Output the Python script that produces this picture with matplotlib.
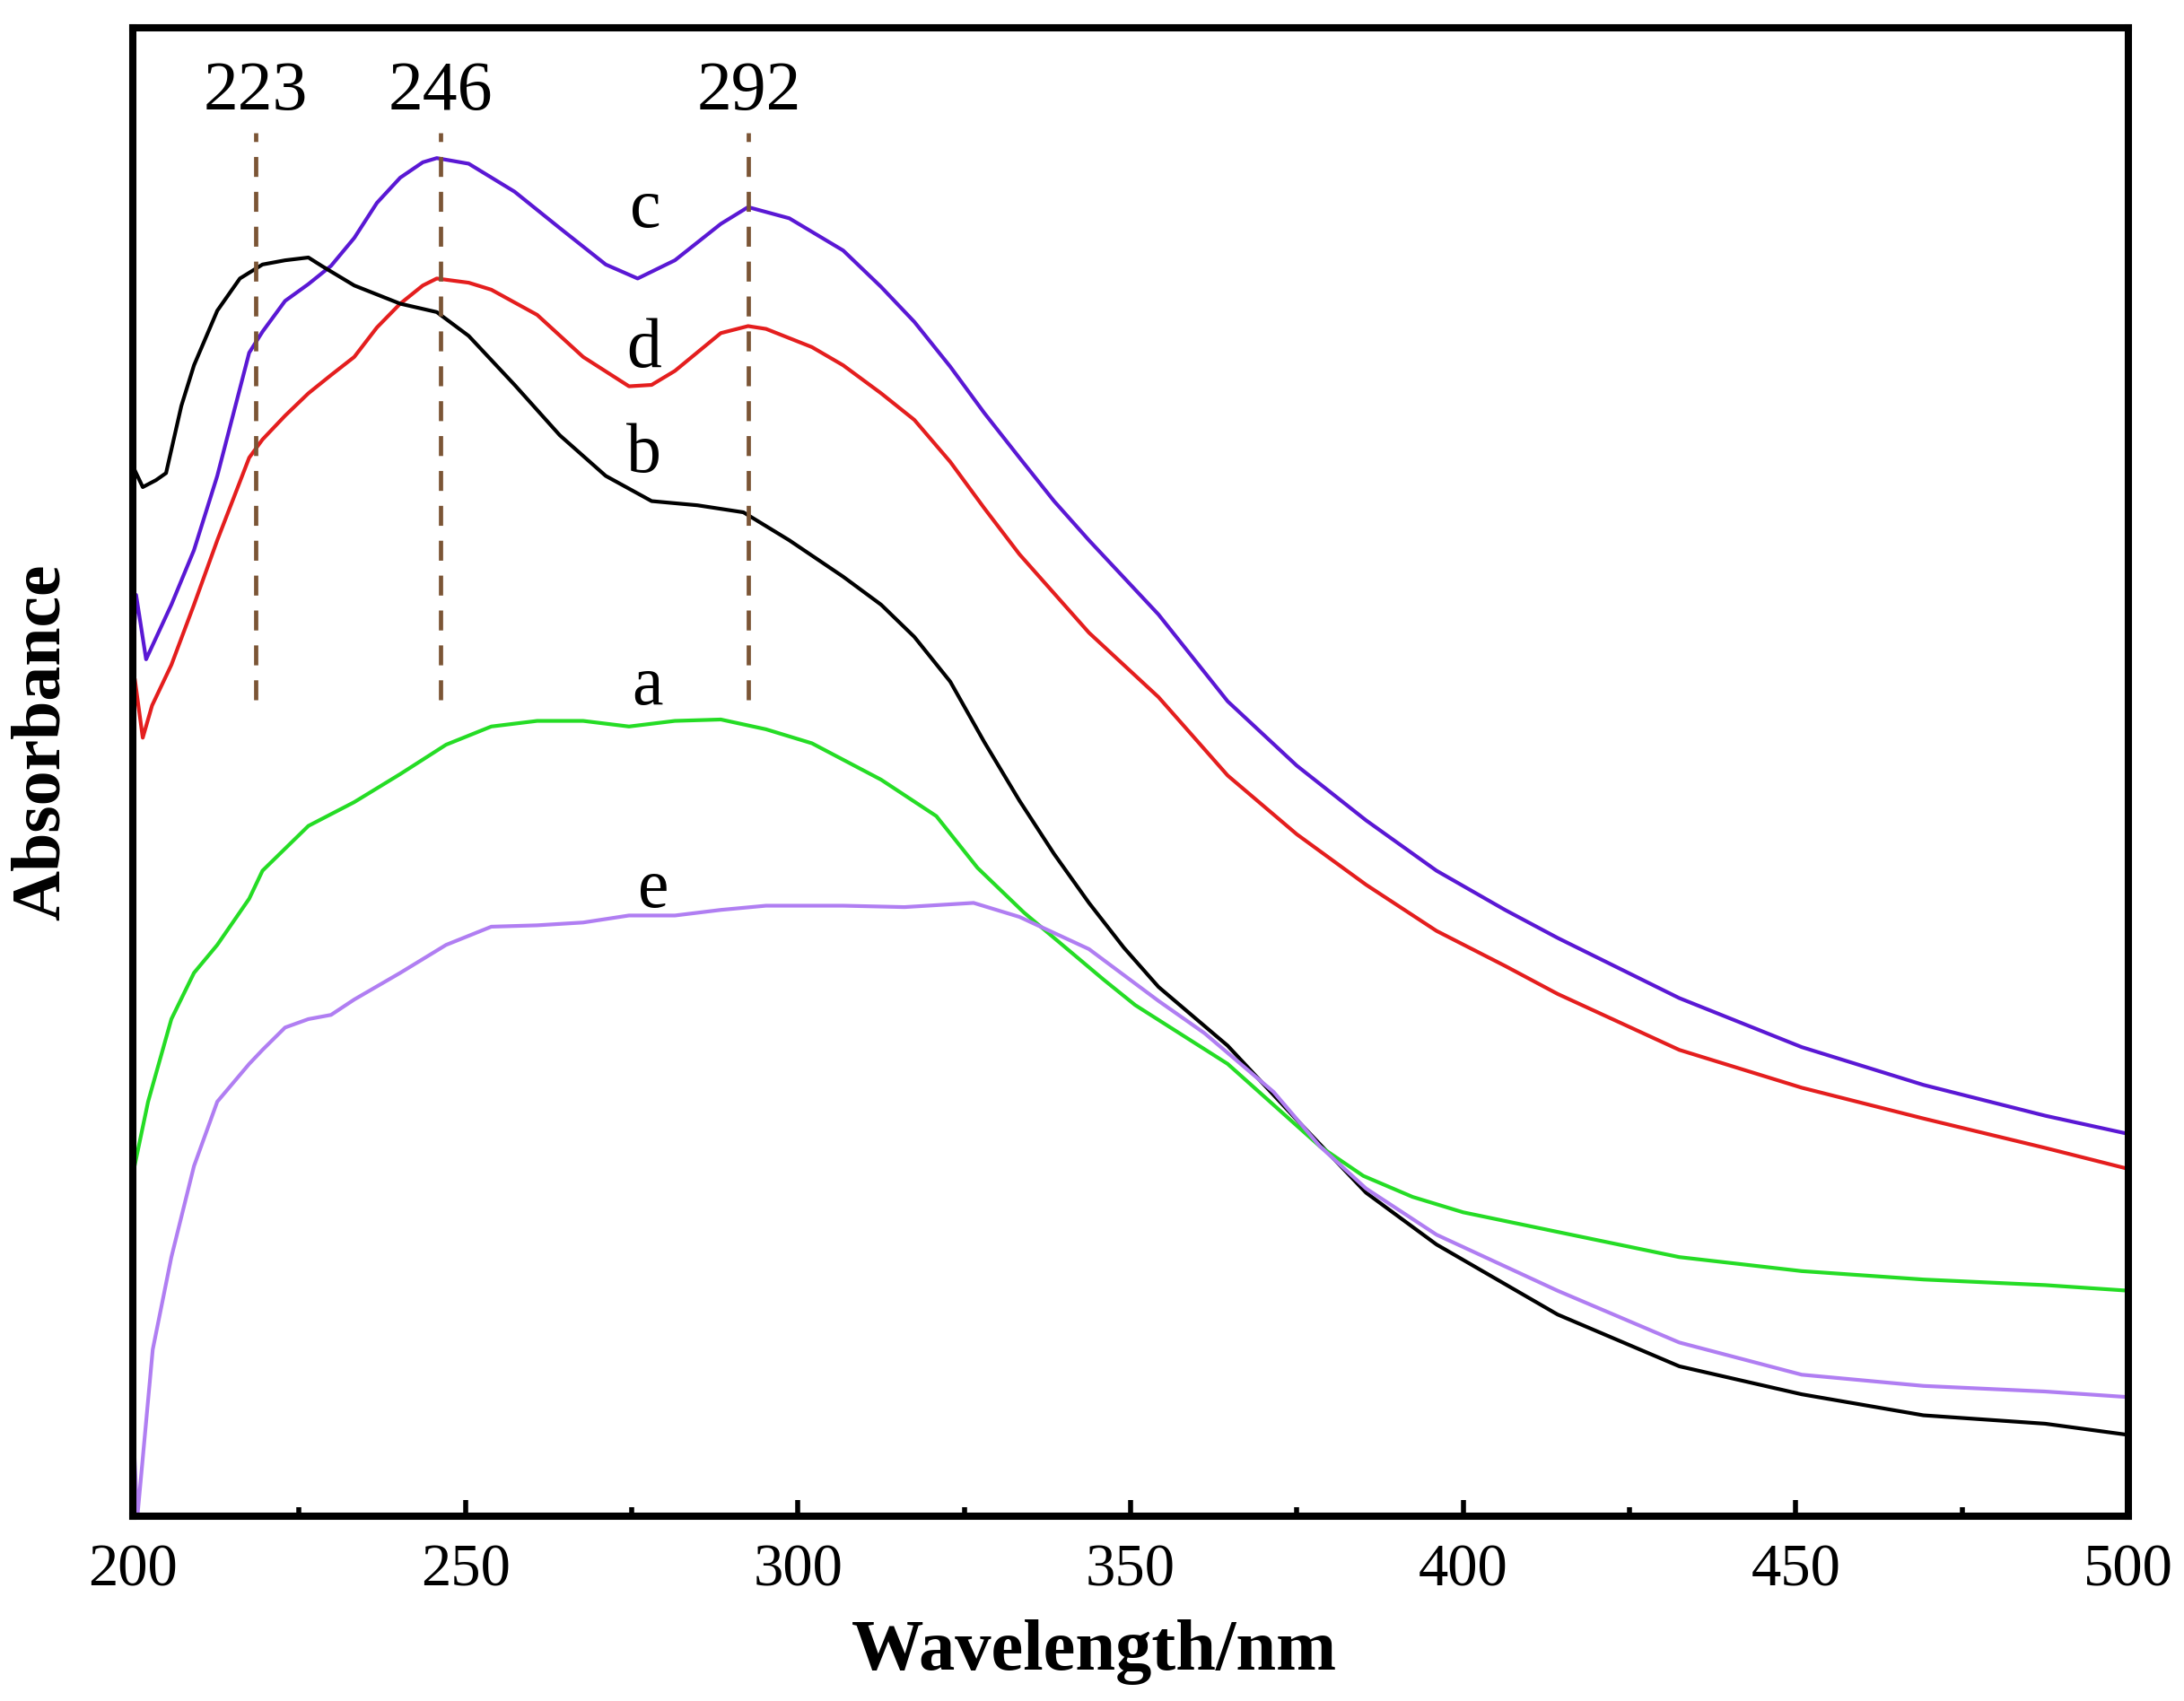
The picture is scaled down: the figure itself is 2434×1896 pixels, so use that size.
import matplotlib
matplotlib.use("Agg")
import matplotlib.pyplot as plt
from matplotlib.ticker import MultipleLocator

plt.rcParams['font.family'] = ['Liberation Serif', 'DejaVu Serif']
plt.rcParams['lines.scale_dashes'] = False

wl_a = [200.0, 202.3, 205.8, 209.2, 212.7, 217.5, 219.5, 226.4, 233.3, 240.2, 247.1, 253.9,
        260.8, 267.7, 274.6, 281.5, 288.4, 295.2, 302.1, 312.5, 320.8, 327.0, 334.0, 340.0,
        346.0, 350.7, 364.6, 378.5, 385.0, 392.4, 400.0, 414.2, 432.5, 450.9, 469.2, 487.5,
        500.0]
abs_a = [0.244, 0.296, 0.355, 0.388, 0.408, 0.441, 0.461, 0.493, 0.510, 0.530, 0.551, 0.564,
         0.568, 0.568, 0.564, 0.568, 0.569, 0.562, 0.552, 0.526, 0.500, 0.463, 0.431, 0.407,
         0.383, 0.365, 0.323, 0.264, 0.243, 0.228, 0.217, 0.203, 0.185, 0.175, 0.169, 0.165,
         0.161]

wl_b = [200.0, 201.5, 203.5, 205.0, 207.3, 209.2, 212.7, 216.1, 219.5, 222.9, 226.4, 228.4,
        230.5, 233.3, 240.2, 245.7, 250.5, 257.4, 264.2, 271.1, 278.0, 284.9, 291.8, 298.7,
        306.8, 312.5, 317.5, 322.9, 328.0, 333.3, 338.5, 343.75, 349.0, 354.2, 364.6, 375.0,
        385.4, 396.0, 414.2, 432.5, 450.9, 469.2, 487.5, 500.0]
abs_b = [0.750, 0.735, 0.740, 0.745, 0.793, 0.822, 0.861, 0.884, 0.894, 0.897, 0.899, 0.893,
         0.887, 0.879, 0.866, 0.860, 0.843, 0.808, 0.772, 0.743, 0.725, 0.722, 0.717, 0.697,
         0.671, 0.651, 0.628, 0.596, 0.553, 0.511, 0.473, 0.438, 0.406, 0.378, 0.336, 0.283,
         0.231, 0.194, 0.144, 0.107, 0.087, 0.072, 0.066, 0.058]

wl_c = [200.0, 200.5, 202.0, 205.8, 209.2, 212.7, 217.5, 219.5, 222.9, 226.4, 229.8, 233.3,
        236.7, 240.2, 243.6, 245.7, 250.5, 257.4, 264.2, 271.1, 275.9, 281.5, 288.4, 292.5,
        298.7, 306.8, 312.5, 317.5, 322.9, 328.0, 333.3, 338.5, 343.75, 354.2, 364.6, 375.0,
        385.4, 396.0, 406.3, 414.2, 432.5, 450.9, 469.2, 487.5, 500.0]
abs_c = [0.613, 0.658, 0.612, 0.651, 0.690, 0.743, 0.831, 0.846, 0.868, 0.880, 0.893, 0.913,
         0.938, 0.956, 0.967, 0.970, 0.966, 0.946, 0.920, 0.894, 0.884, 0.897, 0.923, 0.935,
         0.927, 0.904, 0.878, 0.853, 0.821, 0.788, 0.756, 0.725, 0.697, 0.644, 0.582, 0.536,
         0.497, 0.461, 0.433, 0.413, 0.370, 0.335, 0.308, 0.286, 0.273]

wl_d = [200.0, 200.3, 201.5, 202.9, 205.8, 209.2, 212.7, 217.5, 219.5, 222.9, 226.4, 229.8,
        233.3, 236.7, 240.2, 243.6, 245.7, 250.5, 253.9, 260.8, 267.7, 274.6, 278.0, 281.5,
        288.4, 292.5, 295.2, 302.1, 306.8, 312.5, 317.5, 322.9, 328.0, 333.3, 343.75, 354.2,
        364.6, 375.0, 385.4, 396.0, 406.3, 414.2, 432.5, 450.9, 469.2, 487.5, 500.0]
abs_d = [0.415, 0.598, 0.556, 0.579, 0.608, 0.651, 0.697, 0.756, 0.769, 0.786, 0.802, 0.815,
         0.828, 0.849, 0.866, 0.879, 0.884, 0.881, 0.876, 0.858, 0.828, 0.807, 0.808, 0.818,
         0.845, 0.850, 0.848, 0.835, 0.822, 0.802, 0.783, 0.753, 0.720, 0.687, 0.631, 0.585,
         0.529, 0.487, 0.451, 0.418, 0.393, 0.373, 0.333, 0.306, 0.284, 0.263, 0.248]

wl_e = [200.0, 200.7, 203.0, 205.8, 209.2, 212.7, 217.5, 219.5, 222.9, 226.4, 229.8, 233.3,
        240.2, 247.1, 253.9, 260.8, 267.7, 274.6, 281.5, 288.4, 295.2, 306.8, 316.0, 326.4,
        333.3, 343.75, 354.2, 361.1, 371.5, 378.5, 385.4, 396.0, 414.2, 432.5, 450.9, 469.2,
        487.5, 500.0]
abs_e = [0.066, 0.000, 0.119, 0.185, 0.250, 0.296, 0.323, 0.333, 0.349, 0.355, 0.358, 0.369,
         0.388, 0.408, 0.421, 0.422, 0.424, 0.429, 0.429, 0.433, 0.436, 0.436, 0.435, 0.438,
         0.428, 0.405, 0.368, 0.345, 0.303, 0.264, 0.234, 0.201, 0.161, 0.124, 0.101, 0.093,
         0.089, 0.085]

peak_labels = ['223', '246', '292']
peak_lines = [218.5, 246.3, 292.6]

fig = plt.figure(figsize=(24.34, 18.96), dpi=100)
ax = fig.add_axes([0.0608, 0.1087, 0.9137, 0.8749])

kw = dict(lw=3, solid_joinstyle='round')
ax.plot(wl_c, abs_c, color='#5a18d4', **kw)
ax.plot(wl_d, abs_d, color='#e41e1e', **kw)
ax.plot(wl_b, abs_b, color='black', **kw)
ax.plot(wl_a, abs_a, color='#25dc25', **kw)
ax.plot(wl_e, abs_e, color='#b07ef2', **kw)

for xp, lab in zip(peak_lines, peak_labels):
    ax.plot([xp, xp], [0.583, 0.988], color='#7b5535', lw=3.4, dashes=(16, 12))
    ax.text(xp, 1.005, lab, ha='center', va='baseline', fontsize=56)

# curve letters
ax.text(277.1, 0.921, 'c', ha='center', va='baseline', fontsize=56)
ax.text(276.8, 0.821, 'd', ha='center', va='baseline', fontsize=56)
ax.text(276.8, 0.746, 'b', ha='center', va='baseline', fontsize=56)
ax.text(277.3, 0.580, 'a', ha='center', va='baseline', fontsize=56)
ax.text(278.3, 0.435, 'e', ha='center', va='baseline', fontsize=56)

ax.set_xlim(200, 500)
ax.set_ylim(0, 1.063)
ax.xaxis.set_major_locator(MultipleLocator(50))
ax.xaxis.set_minor_locator(MultipleLocator(25))
ax.tick_params(axis='x', which='major', direction='in', length=13, width=4,
               labelsize=48, pad=22, top=False)
ax.tick_params(axis='x', which='minor', direction='in', length=7, width=4, top=False)
ax.set_yticks([])
for sp in ax.spines.values():
    sp.set_linewidth(5.8)

fig.text(0.501, 0.0285, 'Wavelength/nm', ha='center', va='center',
         fontsize=58, fontweight='bold')
fig.text(0.0193, 0.5638, 'Absorbance', ha='center', va='center', rotation=90,
         fontsize=56, fontweight='bold')

fig.savefig('out.png', dpi=100)
